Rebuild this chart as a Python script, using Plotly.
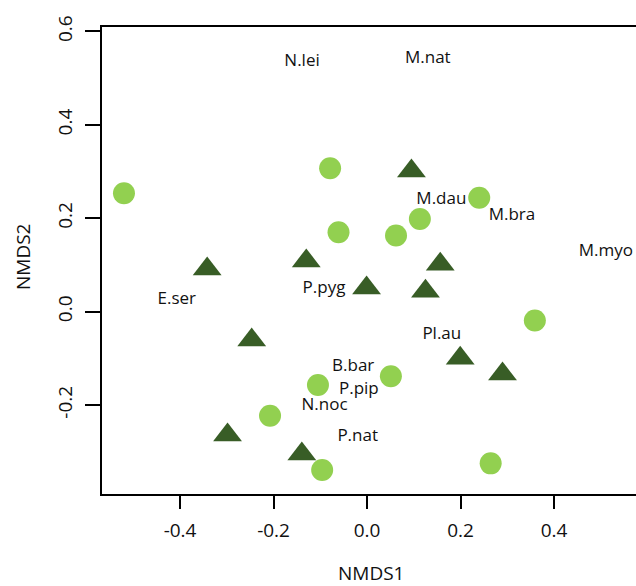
import plotly.graph_objects as go

# Site scores (light green circles)
circle_x = [-0.520, -0.079, 0.240, 0.113, -0.061, 0.062, 0.359, 0.051, -0.105, -0.2075, -0.096, 0.2645]
circle_y = [0.2535, 0.307, 0.244, 0.1985, 0.170, 0.163, -0.019, -0.138, -0.157, -0.2227, -0.339, -0.3247]

# Site scores (dark green triangles)
tri_x = [-0.342, -0.130, 0.095, 0.1566, -0.001, 0.125, -0.2467, -0.2984, -0.1395, 0.1993, 0.2898]
tri_y = [0.0917, 0.1088, 0.3015, 0.1017, 0.0508, 0.0437, -0.0608, -0.2638, -0.3045, -0.0996, -0.1336]

# Species scores (text labels)
species = ["N.lei", "M.nat", "M.dau", "M.bra", "M.myo", "E.ser", "P.pyg",
           "Pl.au", "B.bar", "P.pip", "N.noc", "P.nat"]
species_x = [-0.139, 0.130, 0.159, 0.310, 0.511, -0.407, -0.092,
             0.160, -0.0296, -0.0175, -0.091, -0.020]
species_y = [0.5347, 0.5426, 0.239, 0.2056, 0.128, 0.0265, 0.050,
             -0.0484, -0.1184, -0.1677, -0.202, -0.2677]

x_ticks = [-0.4, -0.2, 0.0, 0.2, 0.4]
y_ticks = [-0.2, 0.0, 0.2, 0.4, 0.6]

FONT = "Open Sans"
TXT = "#111111"

W, H = 636, 586
ML, MT, MB, MR = 102, 27, 92, 0

fig = go.Figure()
fig.add_trace(go.Scatter(
    x=circle_x, y=circle_y, mode="markers",
    marker=dict(symbol="circle", size=22, color="#92D050", line=dict(width=0)),
    showlegend=False, hoverinfo="skip"))
fig.add_trace(go.Scatter(
    x=tri_x, y=tri_y, mode="markers",
    marker=dict(symbol="triangle-up", size=25, color="#385D26", line=dict(width=0)),
    showlegend=False, hoverinfo="skip"))
fig.add_trace(go.Scatter(
    x=species_x, y=species_y, mode="text", text=species,
    textposition="middle center",
    textfont=dict(family=FONT, size=17, color=TXT),
    showlegend=False, hoverinfo="skip", cliponaxis=False))

fig.update_layout(
    width=W, height=H,
    margin=dict(l=ML, r=MR, t=MT, b=MB, autoexpand=False),
    paper_bgcolor="white", plot_bgcolor="white",
    font=dict(family=FONT, color=TXT),
    xaxis=dict(
        range=[-0.567, 0.5754], tickvals=x_ticks,
        ticktext=[f"{v:.1f}" for v in x_ticks],
        showgrid=False, zeroline=False,
        showline=True, linecolor="black", linewidth=2, mirror=True,
        ticks="outside", ticklen=13, tickwidth=2, tickcolor="black",
        tickfont=dict(family=FONT, size=19, color=TXT),
        ticklabelstandoff=5,
    ),
    yaxis=dict(
        range=[-0.3903, 0.6096], tickvals=y_ticks,
        ticktext=[f"{v:.1f}" for v in y_ticks],
        showgrid=False, zeroline=False,
        showline=True, linecolor="black", linewidth=2, mirror=False,
        ticks="outside", ticklen=15, tickwidth=2, tickcolor="black",
        tickangle=-90,
        tickfont=dict(family=FONT, size=19, color=TXT),
        ticklabelstandoff=5,
    ),
)

plot_w = W - ML - MR
plot_h = H - MT - MB


def to_paper(px, py):
    return (px - ML) / plot_w, (H - MB - py) / plot_h


ax1, ay1 = to_paper(371, 573)
ax2, ay2 = to_paper(22.5, 257.5)
fig.add_annotation(text="NMDS1", x=ax1, y=ay1, xref="paper", yref="paper",
                   xanchor="center", yanchor="middle",
                   showarrow=False, font=dict(family=FONT, size=19, color=TXT))
fig.add_annotation(text="NMDS2", x=ax2, y=ay2, xref="paper", yref="paper",
                   xanchor="center", yanchor="middle",
                   showarrow=False, textangle=-90,
                   font=dict(family=FONT, size=19, color=TXT))

fig.write_html(
    "out.html",
    config={"displayModeBar": False},
    post_script="document.body.style.margin='0';document.body.style.overflow='hidden';",
)
